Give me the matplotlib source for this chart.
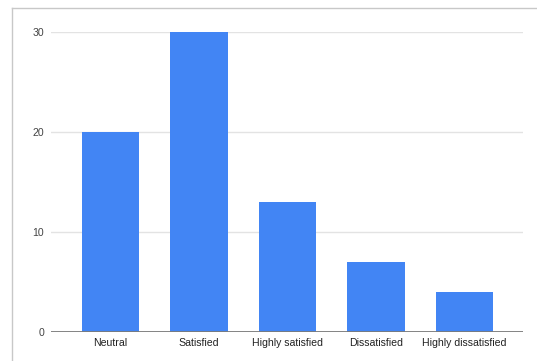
import matplotlib
matplotlib.use("Agg")
import matplotlib.pyplot as plt
from matplotlib.lines import Line2D

categories = ["Neutral", "Satisfied", "Highly satisfied", "Dissatisfied", "Highly dissatisfied"]
counts = [20, 30, 13, 7, 4]
y_ticks = [0, 10, 20, 30]

W, H = 537, 361
fig = plt.figure(figsize=(W / 100, H / 100), dpi=100)
plt.rcParams["font.family"] = ["Liberation Sans", "DejaVu Sans"]

# plot area in pixels: left 51, right 523, top 32, bottom 332
ax = fig.add_axes([51 / W, (H - 332) / H, 472 / W, 300 / H])

x = list(range(len(categories)))
ax.bar(x, counts, width=0.645, color="#4285F4", zorder=3)

ax.set_ylim(0, 30)
ax.set_xlim(-0.672, 4.661)
ax.set_yticks(y_ticks)
ax.set_yticklabels([str(t) for t in y_ticks], fontsize=7.6, color="#444444")
ax.set_xticks(x)
ax.set_xticklabels(categories, fontsize=7.6, color="#222222")
ax.tick_params(axis="both", length=0)
ax.tick_params(axis="y", pad=5)
ax.tick_params(axis="x", pad=4)

for t in y_ticks[1:]:
    ax.axhline(t, color="#e3e3e3", linewidth=1, zorder=1)
ax.axhline(0, color="#7a7a7a", linewidth=1.3, zorder=4)

for s in ax.spines.values():
    s.set_visible(False)

# outer frame on the top and left edges
fig.add_artist(Line2D([11.5 / W, 11.5 / W], [0, 1 - 8 / H], transform=fig.transFigure,
                      color="#c8c8c8", linewidth=1))
fig.add_artist(Line2D([11.5 / W, 1], [1 - 8 / H, 1 - 8 / H], transform=fig.transFigure,
                      color="#c8c8c8", linewidth=1))

fig.savefig("out.png", dpi=100)
